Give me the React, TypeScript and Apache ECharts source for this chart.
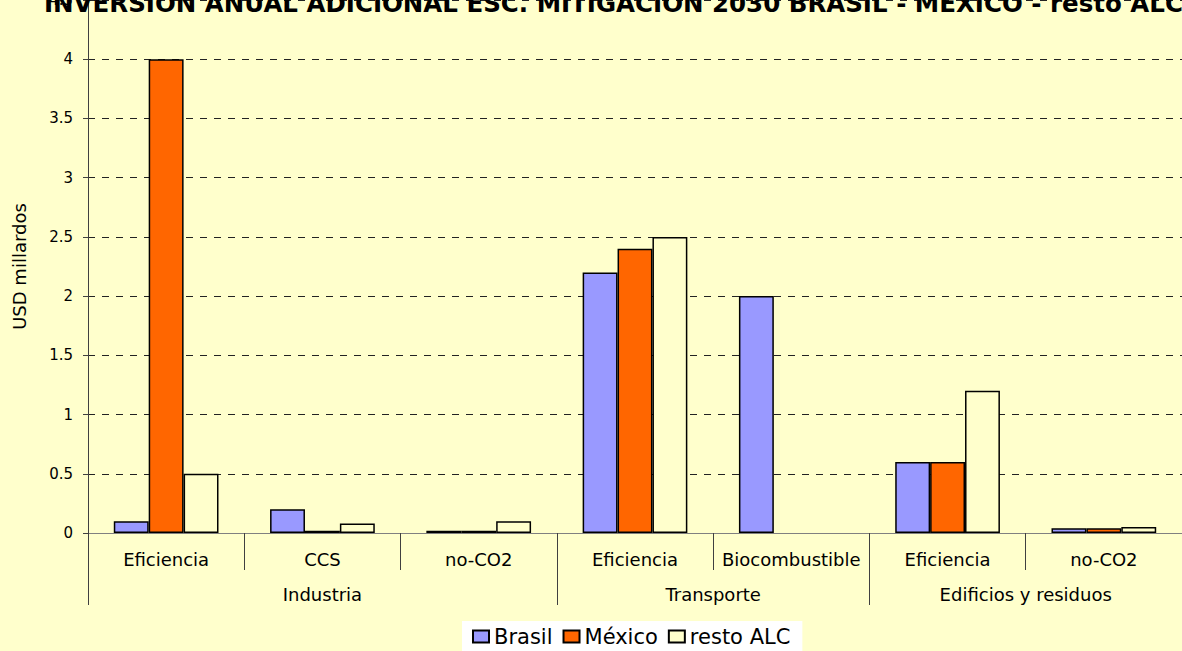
import React, { useEffect, useRef } from "react";
import * as echarts from "echarts";

const subCategories = ["Eficiencia", "CCS", "no-CO2", "Eficiencia", "Biocombustible", "Eficiencia", "no-CO2"];
const groups = ["Industria", "Transporte", "Edificios y residuos"];
const groupSpans = [3, 2, 2];
const brasil = [0.1, 0.2, 0.02, 2.2, 2.0, 0.6, 0.04];
const mexico = [4.0, 0.02, 0.02, 2.4, null, 0.6, 0.04];
const restoALC = [0.5, 0.08, 0.1, 2.5, null, 1.2, 0.05];
const yTicks = [0, 0.5, 1, 1.5, 2, 2.5, 3, 3.5, 4, 4.5];
const titleText = "INVERSIÓN ANUAL ADICIONAL ESC. MITIGACIÓN 2030 BRASIL - MÉXICO - resto ALC";

const FONT = "'DejaVu Sans', Arial, sans-serif";

export default function App() {
  const ref = useRef<HTMLDivElement>(null);
  useEffect(() => {
    document.body.style.margin = "0";
    document.body.style.background = "#FFFFCC";
    const chart = echarts.init(ref.current!, null, { renderer: "svg" });
    const catKeys = subCategories.map((s, i) => i + "|" + s);
    const boundaries: number[] = [0];
    const centers: number[] = [];
    groupSpans.forEach((s) => {
      const start = boundaries[boundaries.length - 1];
      centers.push(start + s / 2);
      boundaries.push(start + s);
    });
    const border = { borderColor: "#000", borderWidth: 1.5 };
    chart.setOption({
      animation: false,
      backgroundColor: "#FFFFCC",
      textStyle: { fontFamily: FONT },
      title: {
        text: titleText,
        left: 44,
        top: -9,
        padding: 0,
        textStyle: { fontFamily: FONT, fontSize: 24.5, fontWeight: "bold", color: "#000" },
      },
      legend: {
        left: 462,
        bottom: 0,
        padding: [5, 12, 4, 10],
        backgroundColor: "#ffffff",
        itemWidth: 16,
        itemHeight: 12,
        itemGap: 10,
        icon: "rect",
        textStyle: { fontFamily: FONT, fontSize: 21, color: "#000" },
        data: ["Brasil", "México", "resto ALC"],
      },
      grid: { left: 88, right: 0, top: 0, bottom: 118, containLabel: false, outerBoundsMode: "none" },
      xAxis: [
        {
          type: "category",
          data: catKeys,
          axisLine: { show: true, lineStyle: { color: "#808080", width: 1 } },
          axisTick: { show: true, length: 37, lineStyle: { color: "#404040" } },
          axisLabel: {
            margin: 17,
            fontSize: 18,
            color: "#000",
            fontFamily: FONT,
            interval: 0,
            formatter: (v: string) => v.split("|")[1],
          },
          splitLine: { show: false },
        },
        {
          type: "value",
          min: 0,
          max: subCategories.length,
          position: "bottom",
          offset: 72,
          axisLine: { show: false },
          axisTick: { show: true, inside: true, length: 35, customValues: boundaries, lineStyle: { color: "#404040" } },
          axisLabel: {
            inside: true,
            margin: 2,
            fontSize: 18,
            color: "#000",
            fontFamily: FONT,
            customValues: centers,
            formatter: (v: number) => {
              const i = centers.findIndex((c) => Math.abs(c - v) < 1e-6);
              return i >= 0 ? groups[i] : "";
            },
          },
          splitLine: { show: false },
        },
      ],
      yAxis: {
        type: "value",
        min: yTicks[0],
        max: yTicks[yTicks.length - 1],
        interval: yTicks[1] - yTicks[0],
        name: "USD millardos",
        nameLocation: "middle",
        nameRotate: 90,
        nameGap: 60,
        nameTextStyle: { fontFamily: FONT, fontSize: 18, color: "#000" },
        axisLine: { show: true, lineStyle: { color: "#404040", width: 1 } },
        axisTick: { show: true, length: 5, lineStyle: { color: "#404040" } },
        axisLabel: { margin: 15, fontSize: 15, color: "#000", fontFamily: FONT },
        splitLine: { show: true, lineStyle: { type: [7, 7], color: "#222", width: 1 } },
      },
      series: [
        { name: "Brasil", type: "bar", data: brasil, barGap: "0%", barCategoryGap: "33%", itemStyle: { color: "#9999FF", ...border } },
        { name: "México", type: "bar", data: mexico, barGap: "0%", barCategoryGap: "33%", itemStyle: { color: "#FF6600", ...border } },
        { name: "resto ALC", type: "bar", data: restoALC, barGap: "0%", barCategoryGap: "33%", itemStyle: { color: "#FFFFCC", ...border } },
      ],
    });
    return () => chart.dispose();
  }, []);
  return <div ref={ref} style={{ width: 1182, height: 651 }} />;
}
